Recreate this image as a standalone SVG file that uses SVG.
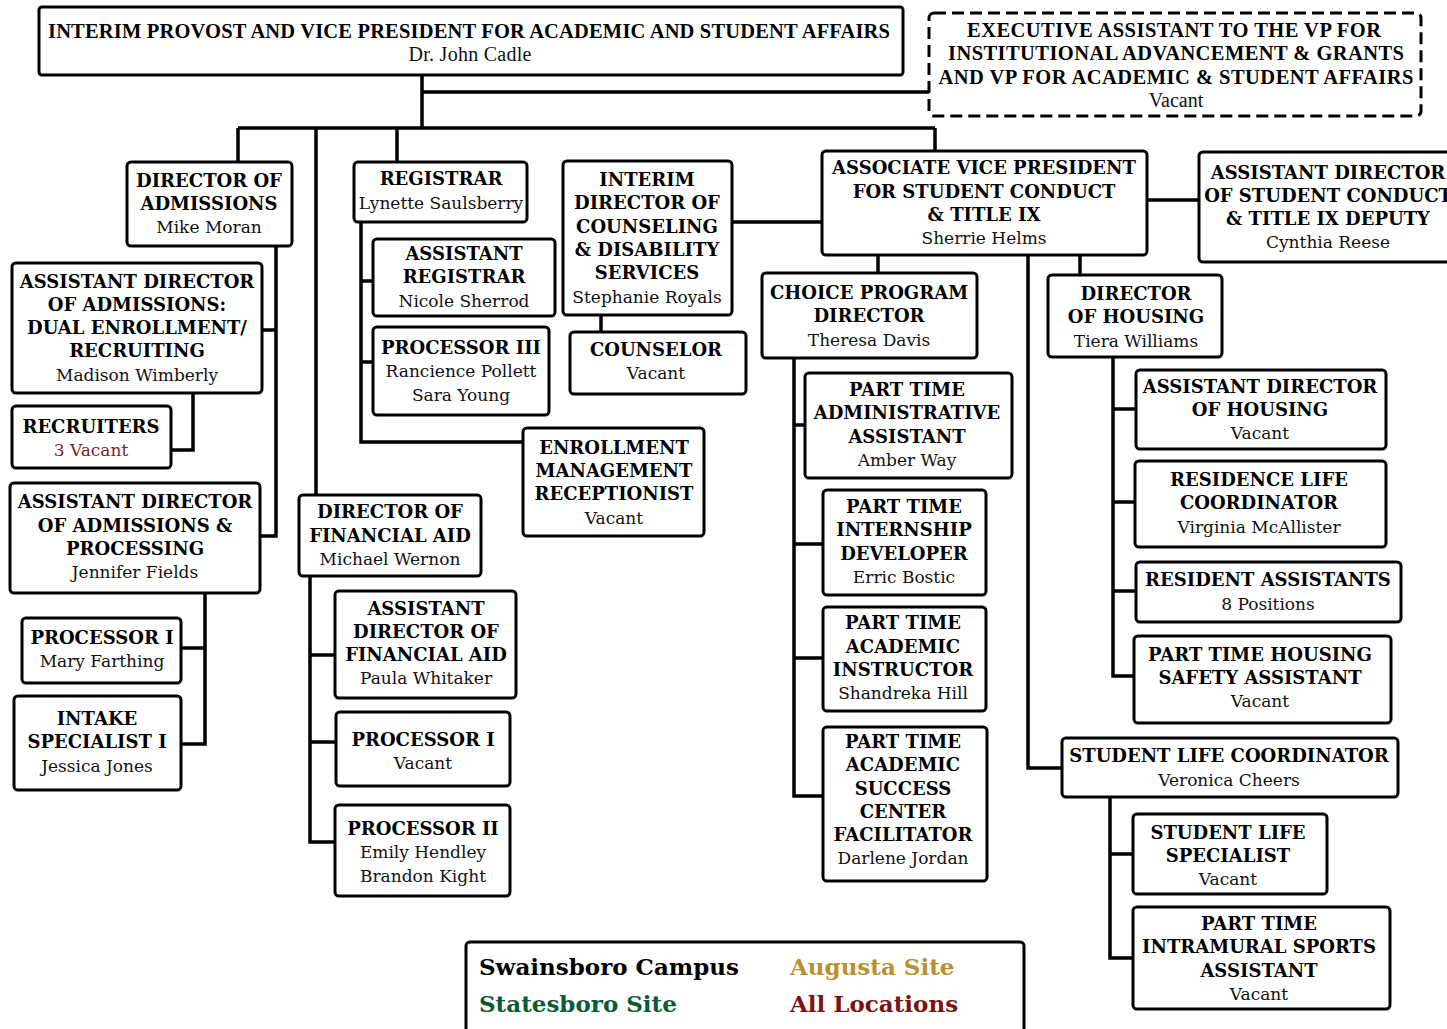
<svg xmlns="http://www.w3.org/2000/svg" width="1447" height="1029" viewBox="0 0 1447 1029">
<style>
.box{fill:#fff;stroke:#000;stroke-width:3}
.dash{fill:#fff;stroke:#000;stroke-width:3;stroke-dasharray:12 6}
.t{font-family:"DejaVu Serif","Liberation Serif",serif;font-weight:bold;font-size:18px;text-anchor:middle;fill:#000}
.n{font-family:"DejaVu Serif","Liberation Serif",serif;font-size:17px;text-anchor:middle;fill:#111}
.tt{font-family:"Liberation Serif",serif;font-weight:bold;font-size:20.5px;text-anchor:middle;fill:#000}
.nn{font-family:"Liberation Serif",serif;font-size:20px;text-anchor:middle;fill:#111}
.conn{fill:none;stroke:#000;stroke-width:3.5}
.lg{font-family:"DejaVu Serif","Liberation Serif",serif;font-weight:bold;font-size:23px}
</style>
<rect width="1447" height="1029" fill="#fff"/>
<g id="connectors" class="conn">
<path d="M422,75 V128 M422,92 H929 M238,128 H935 M238,128 V162 M316,128 V495 M397,128 V162 M935,128 V151"/>
<path d="M276,246 V536 H260 M262,330 H276"/>
<path d="M193,393 V450 H171"/>
<path d="M205,593 V744 H181 M181,648 H205"/>
<path d="M361,222 V442 H523 M361,281 H373 M361,362 H373"/>
<path d="M601,315 V332"/>
<path d="M310,576 V842 H335 M310,655 H335 M310,742 H336"/>
<path d="M732,222 H822 M1147,200 H1199"/>
<path d="M878,255 V273 M1080,255 V275 M1028,255 V768 H1062"/>
<path d="M794,358 V796 H823 M794,425 H805 M794,544 H823 M794,658 H823"/>
<path d="M1113,357 V676 H1134 M1113,409 H1136 M1113,502 H1135 M1113,591 H1136"/>
<path d="M1110,797 V958 H1133 M1110,854 H1133"/>
</g>
<g id="provost"><rect class="box" x="39" y="7" width="864" height="68" rx="3"/>
<text class="tt" x="469" y="38" textLength="842">INTERIM PROVOST AND VICE PRESIDENT FOR ACADEMIC AND STUDENT AFFAIRS</text>
<text class="nn" x="470" y="61" textLength="123">Dr. John Cadle</text></g>
<g id="exec"><rect class="dash" x="929" y="13" width="492" height="103" rx="5"/>
<text class="tt" x="1174" y="37" textLength="414">EXECUTIVE ASSISTANT TO THE VP FOR</text>
<text class="tt" x="1176" y="60" textLength="456">INSTITUTIONAL ADVANCEMENT &amp; GRANTS</text>
<text class="tt" x="1176" y="84" textLength="475">AND VP FOR ACADEMIC &amp; STUDENT AFFAIRS</text>
<text class="nn" x="1176" y="107">Vacant</text></g>
<g id="dir-admissions"><rect class="box" x="127" y="162" width="165" height="84" rx="4"/>
<text class="t" x="209" y="187">DIRECTOR OF</text><text class="t" x="209" y="210">ADMISSIONS</text><text class="n" x="209" y="233">Mike Moran</text></g>
<g id="asst-dir-dual"><rect class="box" x="12" y="263" width="250" height="130" rx="4"/>
<text class="t" x="137" y="288">ASSISTANT DIRECTOR</text><text class="t" x="137" y="311">OF ADMISSIONS:</text><text class="t" x="137" y="334">DUAL ENROLLMENT/</text><text class="t" x="137" y="357">RECRUITING</text><text class="n" x="137" y="381">Madison Wimberly</text></g>
<g id="recruiters"><rect class="box" x="12" y="406" width="159" height="62" rx="4"/>
<text class="t" x="91" y="433">RECRUITERS</text><text class="n" x="91" y="456" style="fill:#7a1f1f">3 Vacant</text></g>
<g id="asst-dir-processing"><rect class="box" x="10" y="483" width="250" height="110" rx="4"/>
<text class="t" x="135" y="508">ASSISTANT DIRECTOR</text><text class="t" x="135" y="532">OF ADMISSIONS &amp;</text><text class="t" x="135" y="555">PROCESSING</text><text class="n" x="135" y="578">Jennifer Fields</text></g>
<g id="processor-i-adm"><rect class="box" x="22" y="618" width="159" height="65" rx="4"/>
<text class="t" x="102" y="644">PROCESSOR I</text><text class="n" x="102" y="667">Mary Farthing</text></g>
<g id="intake"><rect class="box" x="14" y="696" width="167" height="94" rx="4"/>
<text class="t" x="97" y="725">INTAKE</text><text class="t" x="97" y="748">SPECIALIST I</text><text class="n" x="97" y="772">Jessica Jones</text></g>
<g id="registrar"><rect class="box" x="354" y="162" width="173" height="60" rx="4"/>
<text class="t" x="441" y="185">REGISTRAR</text><text class="n" x="441" y="209">Lynette Saulsberry</text></g>
<g id="asst-registrar"><rect class="box" x="373" y="239" width="182" height="77" rx="4"/>
<text class="t" x="464" y="260">ASSISTANT</text><text class="t" x="464" y="283">REGISTRAR</text><text class="n" x="464" y="307">Nicole Sherrod</text></g>
<g id="processor-iii"><rect class="box" x="373" y="327" width="176" height="88" rx="4"/>
<text class="t" x="461" y="354">PROCESSOR III</text><text class="n" x="461" y="377">Rancience Pollett</text><text class="n" x="461" y="401">Sara Young</text></g>
<g id="receptionist"><rect class="box" x="523" y="428" width="181" height="108" rx="4"/>
<text class="t" x="614" y="454">ENROLLMENT</text><text class="t" x="614" y="477">MANAGEMENT</text><text class="t" x="614" y="500">RECEPTIONIST</text><text class="n" x="614" y="524">Vacant</text></g>
<g id="counseling"><rect class="box" x="563" y="161" width="169" height="154" rx="4"/>
<text class="t" x="647" y="186">INTERIM</text><text class="t" x="647" y="209">DIRECTOR OF</text><text class="t" x="647" y="233">COUNSELING</text><text class="t" x="647" y="256">&amp; DISABILITY</text><text class="t" x="647" y="279">SERVICES</text><text class="n" x="647" y="303">Stephanie Royals</text></g>
<g id="counselor"><rect class="box" x="570" y="332" width="176" height="62" rx="4"/>
<text class="t" x="656" y="356">COUNSELOR</text><text class="n" x="656" y="379">Vacant</text></g>
<g id="dir-fin-aid"><rect class="box" x="299" y="495" width="182" height="81" rx="4"/>
<text class="t" x="390" y="518">DIRECTOR OF</text><text class="t" x="390" y="542">FINANCIAL AID</text><text class="n" x="390" y="565">Michael Wernon</text></g>
<g id="asst-dir-fin-aid"><rect class="box" x="335" y="591" width="181" height="107" rx="4"/>
<text class="t" x="426" y="615">ASSISTANT</text><text class="t" x="426" y="638">DIRECTOR OF</text><text class="t" x="426" y="661">FINANCIAL AID</text><text class="n" x="426" y="684">Paula Whitaker</text></g>
<g id="processor-i-fa"><rect class="box" x="336" y="712" width="174" height="74" rx="4"/>
<text class="t" x="423" y="746">PROCESSOR I</text><text class="n" x="423" y="769">Vacant</text></g>
<g id="processor-ii"><rect class="box" x="335" y="805" width="175" height="91" rx="4"/>
<text class="t" x="423" y="835">PROCESSOR II</text><text class="n" x="423" y="858">Emily Hendley</text><text class="n" x="423" y="882">Brandon Kight</text></g>
<g id="avp"><rect class="box" x="822" y="151" width="325" height="104" rx="4"/>
<text class="t" x="984" y="174">ASSOCIATE VICE PRESIDENT</text><text class="t" x="984" y="198">FOR STUDENT CONDUCT</text><text class="t" x="984" y="221">&amp; TITLE IX</text><text class="n" x="984" y="244">Sherrie Helms</text></g>
<g id="asst-dir-conduct"><rect class="box" x="1199" y="152" width="260" height="110" rx="4"/>
<text class="t" x="1328" y="179">ASSISTANT DIRECTOR</text><text class="t" x="1328" y="202">OF STUDENT CONDUCT</text><text class="t" x="1328" y="225">&amp; TITLE IX DEPUTY</text><text class="n" x="1328" y="248">Cynthia Reese</text></g>
<g id="choice"><rect class="box" x="762" y="273" width="215" height="85" rx="4"/>
<text class="t" x="869" y="299">CHOICE PROGRAM</text><text class="t" x="869" y="322">DIRECTOR</text><text class="n" x="869" y="346">Theresa Davis</text></g>
<g id="pt-admin"><rect class="box" x="805" y="373" width="207" height="105" rx="4"/>
<text class="t" x="907" y="396">PART TIME</text><text class="t" x="907" y="419">ADMINISTRATIVE</text><text class="t" x="907" y="443">ASSISTANT</text><text class="n" x="907" y="466">Amber Way</text></g>
<g id="pt-internship"><rect class="box" x="823" y="490" width="163" height="105" rx="4"/>
<text class="t" x="904" y="513">PART TIME</text><text class="t" x="904" y="536">INTERNSHIP</text><text class="t" x="904" y="560">DEVELOPER</text><text class="n" x="904" y="583">Erric Bostic</text></g>
<g id="pt-instructor"><rect class="box" x="823" y="607" width="163" height="104" rx="4"/>
<text class="t" x="903" y="629">PART TIME</text><text class="t" x="903" y="653">ACADEMIC</text><text class="t" x="903" y="676">INSTRUCTOR</text><text class="n" x="903" y="699">Shandreka Hill</text></g>
<g id="pt-facilitator"><rect class="box" x="823" y="727" width="164" height="154" rx="4"/>
<text class="t" x="903" y="748">PART TIME</text><text class="t" x="903" y="771">ACADEMIC</text><text class="t" x="903" y="795">SUCCESS</text><text class="t" x="903" y="818">CENTER</text><text class="t" x="903" y="841">FACILITATOR</text><text class="n" x="903" y="864">Darlene Jordan</text></g>
<g id="dir-housing"><rect class="box" x="1048" y="275" width="174" height="82" rx="4"/>
<text class="t" x="1136" y="300">DIRECTOR</text><text class="t" x="1136" y="323">OF HOUSING</text><text class="n" x="1136" y="347">Tiera Williams</text></g>
<g id="asst-dir-housing"><rect class="box" x="1136" y="370" width="250" height="79" rx="4"/>
<text class="t" x="1260" y="393">ASSISTANT DIRECTOR</text><text class="t" x="1260" y="416">OF HOUSING</text><text class="n" x="1260" y="439">Vacant</text></g>
<g id="residence-life"><rect class="box" x="1135" y="461" width="251" height="86" rx="4"/>
<text class="t" x="1259" y="486">RESIDENCE LIFE</text><text class="t" x="1259" y="509">COORDINATOR</text><text class="n" x="1259" y="533">Virginia McAllister</text></g>
<g id="resident-assistants"><rect class="box" x="1136" y="562" width="265" height="60" rx="4"/>
<text class="t" x="1268" y="586">RESIDENT ASSISTANTS</text><text class="n" x="1268" y="610">8 Positions</text></g>
<g id="pt-housing-safety"><rect class="box" x="1134" y="636" width="257" height="87" rx="4"/>
<text class="t" x="1260" y="661">PART TIME HOUSING</text><text class="t" x="1260" y="684">SAFETY ASSISTANT</text><text class="n" x="1260" y="707">Vacant</text></g>
<g id="student-life-coord"><rect class="box" x="1062" y="738" width="336" height="59" rx="4"/>
<text class="t" x="1229" y="762">STUDENT LIFE COORDINATOR</text><text class="n" x="1229" y="786">Veronica Cheers</text></g>
<g id="student-life-spec"><rect class="box" x="1133" y="814" width="194" height="80" rx="4"/>
<text class="t" x="1228" y="839">STUDENT LIFE</text><text class="t" x="1228" y="862">SPECIALIST</text><text class="n" x="1228" y="885">Vacant</text></g>
<g id="pt-intramural"><rect class="box" x="1133" y="907" width="257" height="102" rx="4"/>
<text class="t" x="1259" y="930">PART TIME</text><text class="t" x="1259" y="953">INTRAMURAL SPORTS</text><text class="t" x="1259" y="977">ASSISTANT</text><text class="n" x="1259" y="1000">Vacant</text></g>
<g id="legend"><rect class="box" x="466" y="942" width="558" height="110" rx="4"/>
<text class="lg" x="479" y="975" fill="#000">Swainsboro Campus</text>
<text class="lg" x="790" y="975" fill="#b8902e">Augusta Site</text>
<text class="lg" x="479" y="1012" fill="#0b5a36">Statesboro Site</text>
<text class="lg" x="790" y="1012" fill="#7a1414">All Locations</text></g>
</svg>
